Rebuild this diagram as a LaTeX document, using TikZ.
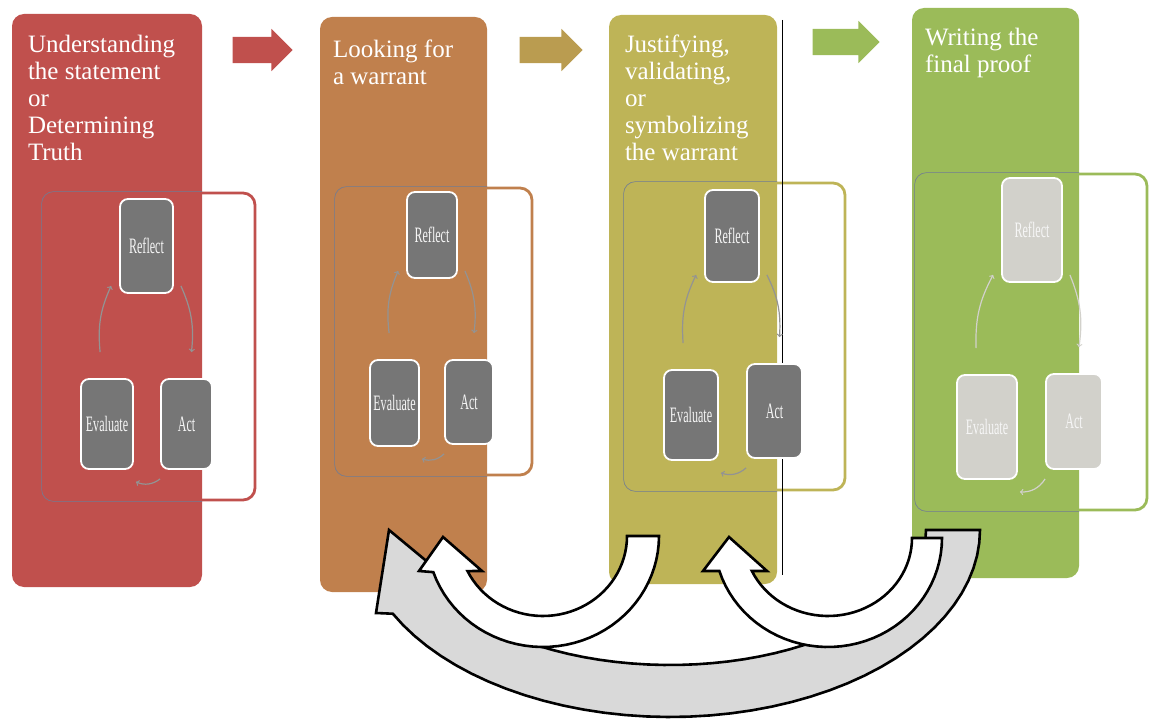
\documentclass[tikz,border=0pt]{standalone}
\usepackage{fontspec}
\setmainfont{Liberation Serif}
\newfontfamily\boxfont{Liberation Serif}[FakeStretch=0.55]
\usetikzlibrary{shapes.arrows,positioning,calc}

\definecolor{redp}{RGB}{192,80,77}
\definecolor{orangep}{RGB}{192,128,77}
\definecolor{olivep}{RGB}{190,180,87}
\definecolor{greenp}{RGB}{155,187,89}
\definecolor{tanarrow}{RGB}{186,156,80}
\definecolor{boxgray}{RGB}{118,118,118}
\definecolor{boxlight}{RGB}{210,209,203}
\definecolor{frameblue}{RGB}{112,124,148}
\definecolor{bandgray}{RGB}{217,217,217}

\tikzset{
  panel/.style={rounded corners=12pt, inner sep=0pt},
  paneltext/.style={text=white, align=left, inner sep=0pt, font=\fontsize{25}{27}\selectfont},
  frame/.style={draw, rounded corners=12pt, line width=2.8pt, inner sep=0pt},
  thinframe/.style={rounded corners=12pt, draw=frameblue, line width=0.6pt},
  cyclebox/.style={draw=white, line width=1.8pt, rounded corners=8pt, fill=boxgray, text=white!92!gray, inner sep=0pt, font=\boxfont\fontsize{22}{22}\selectfont},
  cyclearrow/.style={->, line width=1.2pt},
  steparrow/.style={single arrow, single arrow head extend=8pt, inner xsep=0pt, inner ysep=13pt, minimum height=60pt},
  bigarrow/.style={draw=black, line width=2.6pt},
}

\begin{document}
\begin{tikzpicture}[x=1pt,y=-1pt]
  \useasboundingbox (0,0) rectangle (1151,719);

  % the four stages
  \node[panel, fill=redp, minimum width=190pt, minimum height=573pt] (p1) at (107,300.5) {};
  \node[panel, fill=orangep, minimum width=167pt, minimum height=575pt] (p2) at (403.5,304.5) {};
  \node[panel, fill=olivep, minimum width=168pt, minimum height=569pt] (p3) at (693,299.5) {};
  \node[panel, fill=greenp, minimum width=167pt, minimum height=570pt] (p4) at (995.5,293) {};

  % cycle frames
  \node[frame, draw=redp, minimum width=212pt, minimum height=307pt] (f1) at (149,346.5) {};
  \node[frame, draw=orangep, minimum width=196pt, minimum height=287pt] (f2) at (434,331.5) {};
  \node[frame, draw=olivep, minimum width=220pt, minimum height=307pt] (f3) at (735,336.5) {};
  \node[frame, draw=greenp, minimum width=231pt, minimum height=336pt] (f4) at (1031.5,342) {};
  \foreach \i in {1,...,4} {
    \begin{scope}
      \clip (p\i.south west) rectangle (p\i.north east);
      \draw[thinframe] (f\i.south west) rectangle (f\i.north east);
    \end{scope}
  }
  \draw[black, line width=0.9pt] ($(p3.north east)+(5,5)$) -- ($(p3.south east)+(5,-9)$);

  % reflect / act / evaluate
  \node[cyclebox, minimum width=53pt, minimum height=94pt] (refl1) at (146.5,246) {Reflect};
  \node[cyclebox, minimum width=52pt, minimum height=90pt] (eval1) at (107,424) {Evaluate};
  \node[cyclebox, minimum width=51pt, minimum height=90pt] (act1) at (186.5,424) {Act};

  \node[cyclebox, minimum width=50pt, minimum height=86pt] (refl2) at (432,235) {Reflect};
  \node[cyclebox, minimum width=49pt, minimum height=86pt] (eval2) at (394.5,403) {Evaluate};
  \node[cyclebox, minimum width=48pt, minimum height=84pt] (act2) at (469,402) {Act};

  \node[cyclebox, minimum width=54pt, minimum height=92pt] (refl3) at (732,236) {Reflect};
  \node[cyclebox, minimum width=54pt, minimum height=90pt] (eval3) at (691,415) {Evaluate};
  \node[cyclebox, minimum width=55pt, minimum height=94pt] (act3) at (774.5,411) {Act};

  \node[cyclebox, fill=boxlight, text=white!93!gray, minimum width=60pt, minimum height=104pt] (refl4) at (1032,230) {Reflect};
  \node[cyclebox, fill=boxlight, text=white!93!gray, minimum width=60pt, minimum height=104pt] (eval4) at (987,427) {Evaluate};
  \node[cyclebox, fill=boxlight, text=white!93!gray, minimum width=56pt, minimum height=95pt] (act4) at (1074,421.5) {Act};

  \foreach \i/\ac in {1/gray!85, 2/gray!85, 3/gray!85, 4/boxlight} {
    \draw[cyclearrow, draw=\ac] ($(eval\i.north west)+(20,-26)$) to[bend left=15] ($(refl\i.south west)+(-8,-8)$);
    \draw[cyclearrow, draw=\ac] ($(refl\i.south east)+(7,-8)$) to[bend left=15] ($(act\i.north)+(5,-26)$);
    \draw[cyclearrow, draw=\ac] ($(act\i.south west)+(0,9)$) to[bend left=30] ($(eval\i.south east)+(2,12)$);
  }

  % stage titles
  \node[paneltext, below right=21pt and 16pt of p1.north west] (t1) {Understanding\\the statement\\or\\Determining\\Truth};
  \node[paneltext, below right=23pt and 13pt of p2.north west] (t2) {Looking for\\a warrant};
  \node[paneltext, below right=20pt and 16pt of p3.north west] (t3) {Justifying,\\validating,\\or\\symbolizing\\the warrant};
  \node[paneltext, below right=20pt and 13pt of p4.north west] (t4) {Writing the\\final proof};

  \node[steparrow, fill=redp] (a12) at (256,50) {};
  \node[steparrow, fill=tanarrow, minimum height=63pt] (a23) at (544.5,50) {};
  \node[steparrow, fill=greenp, minimum height=67pt] (a34) at (839.5,42) {};

  % going back
  \draw[bigarrow, fill=bandgray]
    plot[domain=0:153.4, samples=40, variable=\t] ({670+310*cos(\t)},{530+187*sin(\t)})
    -- (376,613) -- (389,530) -- (488,612)
    -- plot[domain=142.6:0, samples=40, variable=\t] ({670+256*cos(\t)},{530+135*sin(\t)}) -- cycle;
  \draw[bigarrow, fill=white]
    plot[domain=0:161, samples=40, variable=\t] ({543+116*cos(\t)},{536+111*sin(\t)})
    -- (419,571) -- (443,537) -- (482,571)
    -- plot[domain=154:0, samples=40, variable=\t] ({543+84*cos(\t)},{536+80*sin(\t)}) -- cycle;
  \draw[bigarrow, fill=white]
    plot[domain=0:162.4, samples=40, variable=\t] ({828+114*cos(\t)},{538+109*sin(\t)})
    -- (703,571) -- (729,537) -- (767,571)
    -- plot[domain=155:0, samples=40, variable=\t] ({828+84*cos(\t)},{538+78*sin(\t)}) -- cycle;
\end{tikzpicture}
\end{document}
